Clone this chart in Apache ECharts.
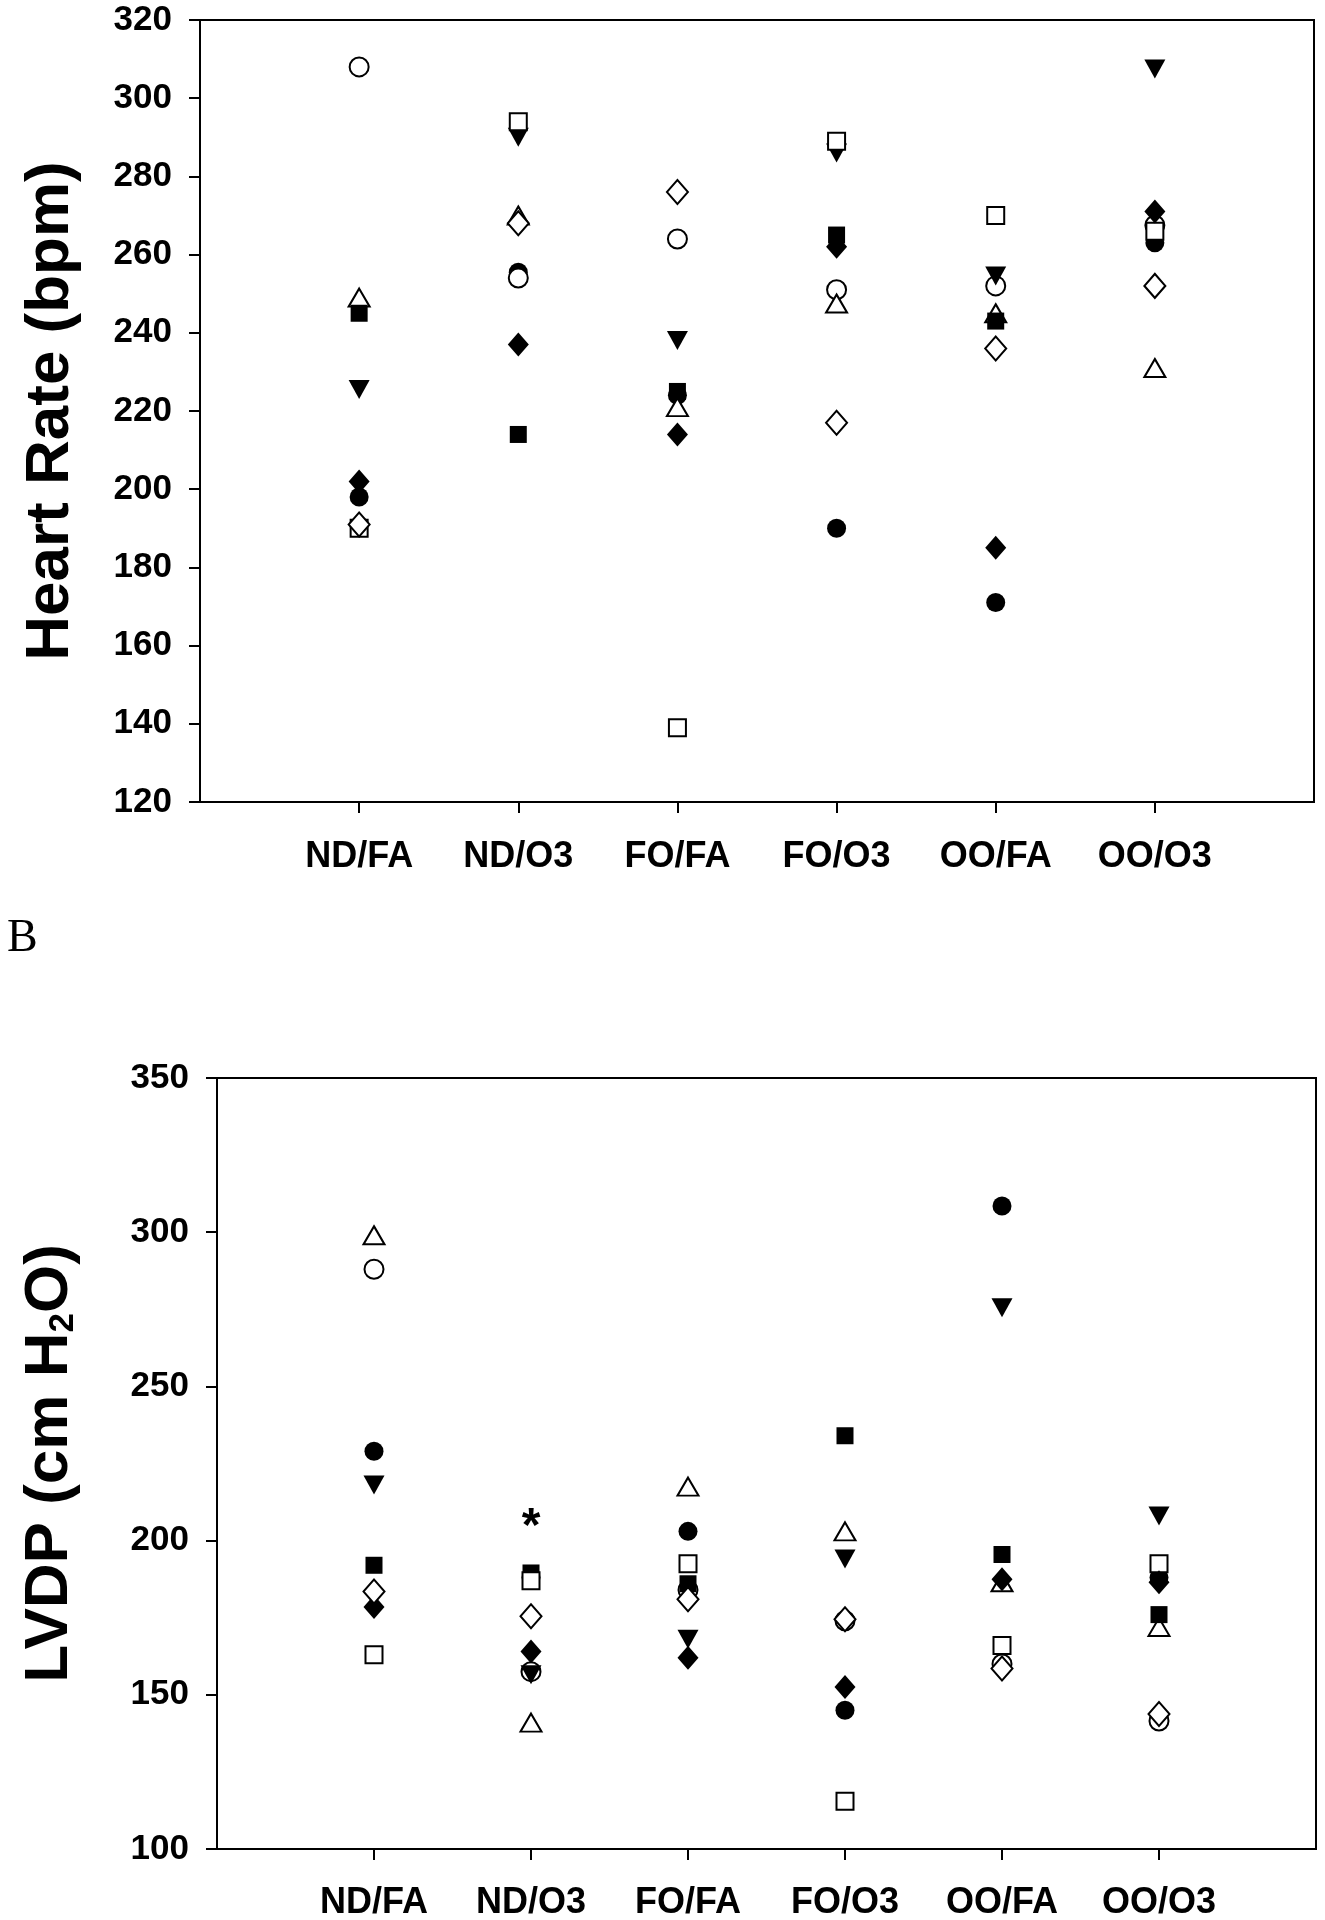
<!DOCTYPE html>
<html>
<head>
<meta charset="utf-8">
<script src="https://cdn.jsdelivr.net/npm/echarts@6/dist/echarts.min.js"></script>
<style>
html,body{margin:0;padding:0;background:#fff;}
#c{width:1325px;height:1920px;}
</style>
</head>
<body>
<div id="c"></div>
<script>
// Groups (x-axis categories)
const categories = ['ND/FA', 'ND/O3', 'FO/FA', 'FO/O3', 'OO/FA', 'OO/O3'];

// Panel A: Heart Rate (bpm), one value per group, in category order
const hrFilledCircle  = [198, 255.5, 224, 190, 171, 263];
const hrOpenCircle    = [308, 254, 264, 251, 252, 267.5];
const hrFilledTriDown = [225.5, 290, 238, 286, 254.5, 307.5];
const hrOpenTriUp     = [249, 270, 221, 247.5, 245, 231];
const hrFilledSquare  = [245, 214, 225, 265, 243, 266];
const hrOpenSquare    = [190, 294, 139, 289, 270, 266];
const hrFilledDiamond = [202, 237, 214, 262, 185, 271];
const hrOpenDiamond   = [191, 268, 276, 217, 236, 252];

// Panel B: LVDP (cm H2O)
const lvFilledCircle  = [229, 188, 203, 145, 308.5, 188];
const lvOpenCircle    = [288, 157.5, 184, 174, 160, 141.5];
const lvFilledTriDown = [218, 156.5, 168, 194, 275.5, 208];
const lvOpenTriUp     = [299, 141, 217.5, 203, 186.5, 172];
const lvFilledSquare  = [192, 189.5, 186, 234, 195.5, 176];
const lvOpenSquare    = [163, 187, 192.5, 115.5, 166, 192.5];
const lvFilledDiamond = [178.5, 164, 162, 152.5, 187.5, 186.5];
const lvOpenDiamond   = [183.5, 175.5, 181, 174.5, 158.5, 143.8];

// Significance mark (asterisk) in panel B
const sigGroup = 'ND/O3';
const sigValue = 208;

// Y-axis ranges / ticks
const hrAxis = {min: 120, max: 320, interval: 20};
const lvAxis = {min: 100, max: 350, interval: 50};

const catPositions = categories.map((c, i) => i + 1);
const FONT = '"Liberation Sans", Arial, sans-serif';

const symbolDefs = [
  {key: 'FilledCircle',  symbol: 'circle',   size: 19, rotate: 0,   open: false},
  {key: 'OpenCircle',    symbol: 'circle',   size: 19, rotate: 0,   open: true},
  {key: 'FilledTriDown', symbol: 'triangle', size: [21, 19], rotate: 180, open: false},
  {key: 'OpenTriUp',     symbol: 'triangle', size: [21, 18], rotate: 0, open: true},
  {key: 'FilledSquare',  symbol: 'rect',     size: [17, 17], rotate: 0, open: false},
  {key: 'OpenSquare',    symbol: 'rect',     size: [17, 17], rotate: 0, open: true},
  {key: 'FilledDiamond', symbol: 'diamond',  size: [21, 24], rotate: 0, open: false},
  {key: 'OpenDiamond',   symbol: 'diamond',  size: [21, 24], rotate: 0, open: true}
];

const hrData = {
  FilledCircle: hrFilledCircle, OpenCircle: hrOpenCircle, FilledTriDown: hrFilledTriDown,
  OpenTriUp: hrOpenTriUp, FilledSquare: hrFilledSquare, OpenSquare: hrOpenSquare,
  FilledDiamond: hrFilledDiamond, OpenDiamond: hrOpenDiamond
};
const lvData = {
  FilledCircle: lvFilledCircle, OpenCircle: lvOpenCircle, FilledTriDown: lvFilledTriDown,
  OpenTriUp: lvOpenTriUp, FilledSquare: lvFilledSquare, OpenSquare: lvOpenSquare,
  FilledDiamond: lvFilledDiamond, OpenDiamond: lvOpenDiamond
};

function makeSeries(dataMap, axisIndex, prefix) {
  return symbolDefs.map(d => ({
    name: prefix + d.key,
    type: 'scatter',
    xAxisIndex: axisIndex,
    yAxisIndex: axisIndex,
    symbol: d.symbol,
    symbolSize: d.size,
    symbolRotate: d.rotate,
    silent: true,
    itemStyle: d.open
      ? {color: '#ffffff', borderColor: '#000000', borderWidth: 2, opacity: 1}
      : {color: '#000000', borderColor: '#000000', borderWidth: 0, opacity: 1},
    data: dataMap[d.key].map((v, i) => [catPositions[i], v])
  }));
}

function xAxisDef(gridIndex, margin) {
  return {
    type: 'value', gridIndex: gridIndex, min: 0, max: 7, interval: 1,
    splitLine: {show: false},
    axisLine: {show: true, onZero: false, lineStyle: {color: '#000', width: 2}},
    axisTick: {show: true, length: 11, customValues: catPositions, lineStyle: {color: '#000', width: 2}},
    axisLabel: {
      show: true, customValues: catPositions, margin: margin,
      formatter: v => categories[Math.round(v) - 1] || '',
      color: '#000', fontFamily: FONT, fontWeight: 'bold', fontSize: 36
    }
  };
}

function yAxisDef(gridIndex, ax, name, nameGap, rich) {
  const o = {
    type: 'value', gridIndex: gridIndex, min: ax.min, max: ax.max, interval: ax.interval,
    splitLine: {show: false},
    axisLine: {show: true, lineStyle: {color: '#000', width: 2}},
    axisTick: {show: true, length: 11, lineStyle: {color: '#000', width: 2}},
    axisLabel: {margin: 28, color: '#000', fontFamily: FONT, fontWeight: 'bold', fontSize: 35},
    name: name, nameLocation: 'middle', nameGap: nameGap, nameRotate: 90,
    nameTextStyle: {color: '#000', fontFamily: FONT, fontWeight: 'bold', fontSize: 62}
  };
  if (rich) o.nameTextStyle.rich = rich;
  return o;
}

const chart = echarts.init(document.getElementById('c'), null, {renderer: 'canvas'});

const lvSeries = makeSeries(lvData, 1, 'lv');
lvSeries[lvSeries.length - 1].markPoint = {
  symbol: 'circle', symbolSize: 0, silent: true,
  data: [{coord: [categories.indexOf(sigGroup) + 1, sigValue]}],
  label: {show: true, position: 'inside', formatter: '*', offset: [0, 12],
          color: '#000', fontFamily: FONT, fontWeight: 'bold', fontSize: 48}
};

chart.setOption({
  animation: false,
  backgroundColor: '#ffffff',
  grid: [
    {left: 200, top: 20, width: 1114, height: 782, show: true, borderColor: '#000', borderWidth: 2,
     backgroundColor: 'transparent', containLabel: false, outerBoundsMode: 'none'},
    {left: 217, top: 1078, width: 1099, height: 771, show: true, borderColor: '#000', borderWidth: 2,
     backgroundColor: 'transparent', containLabel: false, outerBoundsMode: 'none'}
  ],
  xAxis: [xAxisDef(0, 37), xAxisDef(1, 36)],
  yAxis: [
    yAxisDef(0, hrAxis, 'Heart Rate (bpm)', 118),
    yAxisDef(1, lvAxis, '{t|LVDP (cm H}{s|2}{t|O)}', 136, {
      t: {fontFamily: FONT, fontWeight: 'bold', fontSize: 62, lineHeight: 62, verticalAlign: 'top', color: '#000'},
      s: {fontFamily: FONT, fontWeight: 'bold', fontSize: 35, lineHeight: 35, verticalAlign: 'bottom', padding: [44, 0, 0, 0], color: '#000'}
    })
  ],
  graphic: [
    {type: 'text', left: 7, top: 916,
     style: {text: 'B', fontFamily: '"Liberation Serif", "Times New Roman", serif', fontSize: 46, fill: '#000'}}
  ],
  series: makeSeries(hrData, 0, 'hr').concat(lvSeries)
});
</script>
</body>
</html>
